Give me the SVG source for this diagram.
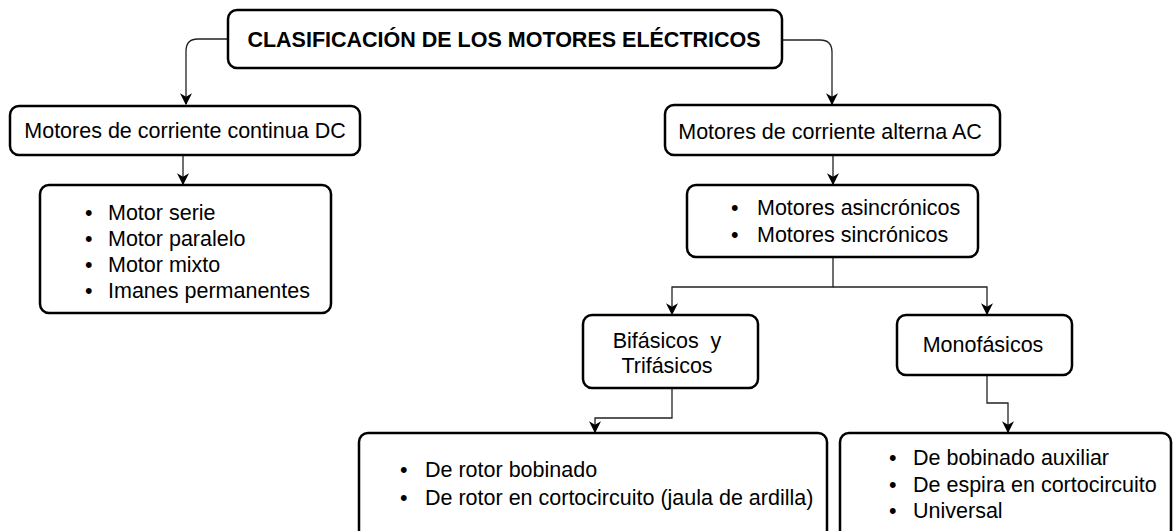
<svg xmlns="http://www.w3.org/2000/svg" width="1174" height="531" viewBox="0 0 1174 531">
<style>
.box{fill:#fff;stroke:#000;stroke-width:2.5}
.t{font-family:"Liberation Sans",Arial,sans-serif;font-size:21.5px;fill:#000}
.b{font-weight:bold}
.c{text-anchor:middle}
.ln{fill:none;stroke:#222;stroke-width:1.3}
</style>
<defs>
<marker id="ah" viewBox="0 0 10 10" refX="9" refY="5" markerWidth="12" markerHeight="12" markerUnits="userSpaceOnUse" orient="auto">
<path d="M0,0 L10,5 L0,10 L3,5 z" fill="#000"/>
</marker>
</defs>
<g id="connectors">
<path class="ln" d="M228,39 H198 Q186,39 186,51 V104" marker-end="url(#ah)"/>
<path class="ln" d="M782,40 H820 Q832,40 832,52 V104" marker-end="url(#ah)"/>
<path class="ln" d="M183,155 V184" marker-end="url(#ah)"/>
<path class="ln" d="M833,155 V184" marker-end="url(#ah)"/>
<path class="ln" d="M833,257 V287 H672 V314" marker-end="url(#ah)"/>
<path class="ln" d="M833,287 H987 V314" marker-end="url(#ah)"/>
<path class="ln" d="M672,388 V418 H595 V432" marker-end="url(#ah)"/>
<path class="ln" d="M987,375 V403 H1008 V432" marker-end="url(#ah)"/>
</g>
<g id="title">
<rect class="box" x="228" y="10" width="554" height="58" rx="9"/>
<text class="t b c" x="504" y="47">CLASIFICACIÓN DE LOS MOTORES ELÉCTRICOS</text>
</g>
<g id="dc">
<rect class="box" x="10" y="106" width="350" height="49" rx="9"/>
<text class="t c" x="185" y="138">Motores de corriente continua DC</text>
</g>
<g id="dc-list">
<rect class="box" x="40" y="185" width="291" height="128" rx="9"/>
<text class="t" x="85" y="220">•</text><text class="t" x="108" y="220">Motor serie</text>
<text class="t" x="85" y="246">•</text><text class="t" x="108" y="246">Motor paralelo</text>
<text class="t" x="85" y="272">•</text><text class="t" x="108" y="272">Motor mixto</text>
<text class="t" x="85" y="298">•</text><text class="t" x="108" y="298">Imanes permanentes</text>
</g>
<g id="ac">
<rect class="box" x="665" y="105" width="335" height="50" rx="9"/>
<text class="t c" x="830" y="139">Motores de corriente alterna AC</text>
</g>
<g id="ac-types">
<rect class="box" x="687" y="185" width="291" height="72" rx="9"/>
<text class="t" x="731" y="215">•</text><text class="t" x="757" y="215">Motores asincrónicos</text>
<text class="t" x="731" y="242">•</text><text class="t" x="757" y="242">Motores sincrónicos</text>
</g>
<g id="bifasicos">
<rect class="box" x="583" y="315" width="175" height="73" rx="9"/>
<text class="t c" x="667" y="348">Bifásicos&#160; y</text>
<text class="t c" x="667" y="373">Trifásicos</text>
</g>
<g id="monofasicos">
<rect class="box" x="897" y="315" width="175" height="60" rx="9"/>
<text class="t c" x="983" y="352">Monofásicos</text>
</g>
<g id="bi-list">
<rect class="box" x="359" y="433" width="468" height="110" rx="9"/>
<text class="t" x="400" y="477">•</text><text class="t" x="425" y="477">De rotor bobinado</text>
<text class="t" x="400" y="505">•</text><text class="t" x="425" y="505">De rotor en cortocircuito (jaula de ardilla)</text>
</g>
<g id="mono-list">
<rect class="box" x="840" y="433" width="331" height="110" rx="9"/>
<text class="t" x="889" y="465">•</text><text class="t" x="913" y="465">De bobinado auxiliar</text>
<text class="t" x="889" y="492">•</text><text class="t" x="913" y="492">De espira en cortocircuito</text>
<text class="t" x="889" y="518">•</text><text class="t" x="913" y="518">Universal</text>
</g>
</svg>
